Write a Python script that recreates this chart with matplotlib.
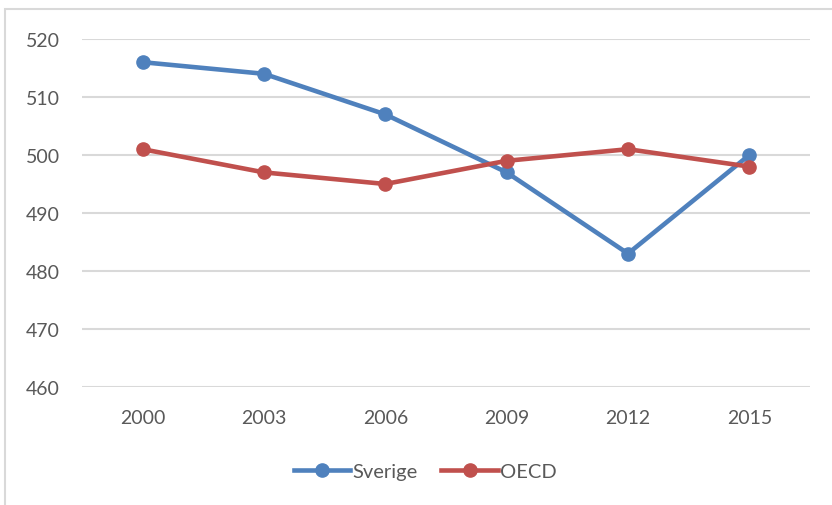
import matplotlib
matplotlib.use("Agg")
import matplotlib.pyplot as plt
from matplotlib.patches import Rectangle

years = ["2000", "2003", "2006", "2009", "2012", "2015"]
sverige = [516, 514, 507, 497, 483, 500]
oecd = [501, 497, 495, 499, 501, 498]

BLUE = "#4F81BD"
RED = "#C0504D"
GRID = "#D9D9D9"
TEXT = "#595959"

plt.rcParams["font.family"] = ["Lato", "DejaVu Sans"]

fig = plt.figure(figsize=(8.32, 5.06), dpi=100)
W, H = 832, 506
# chart frame (extends past the right/bottom edges in the reference)
fig.patches.append(Rectangle((5 / W, -0.1), 1.2, 1 - 10 / H + 0.1, transform=fig.transFigure,
                             fill=False, edgecolor=GRID, lw=1.5))

ax = fig.add_axes([82 / W, 1 - 388 / H, (810 - 82) / W, (388 - 40) / H])
x = range(len(years))
ax.plot(x, sverige, "-o", color=BLUE, lw=3.3, ms=9.5, label="Sverige", zorder=3)
ax.plot(x, oecd, "-o", color=RED, lw=3.3, ms=9.5, label="OECD", zorder=3)

ax.set_xlim(-0.5, len(years) - 0.5)
ax.set_ylim(460, 520)
ax.set_yticks(range(460, 521, 10))
ax.set_xticks(list(x))
ax.set_xticklabels(years)
ax.grid(axis="y", color=GRID, lw=1.5)
ax.set_axisbelow(True)
for s in ax.spines.values():
    s.set_visible(False)
ax.tick_params(length=0, labelsize=14, labelcolor=TEXT)
ax.tick_params(axis="y", pad=16)
ax.tick_params(axis="x", pad=16)

leg = fig.legend(loc="center", bbox_to_anchor=(425 / W, 1 - 472 / H), ncol=2, frameon=False,
                 fontsize=14.5, handlelength=2.8, handletextpad=0.1, columnspacing=1.2)
for t in leg.get_texts():
    t.set_color(TEXT)

fig.savefig("out.png", dpi=100)
